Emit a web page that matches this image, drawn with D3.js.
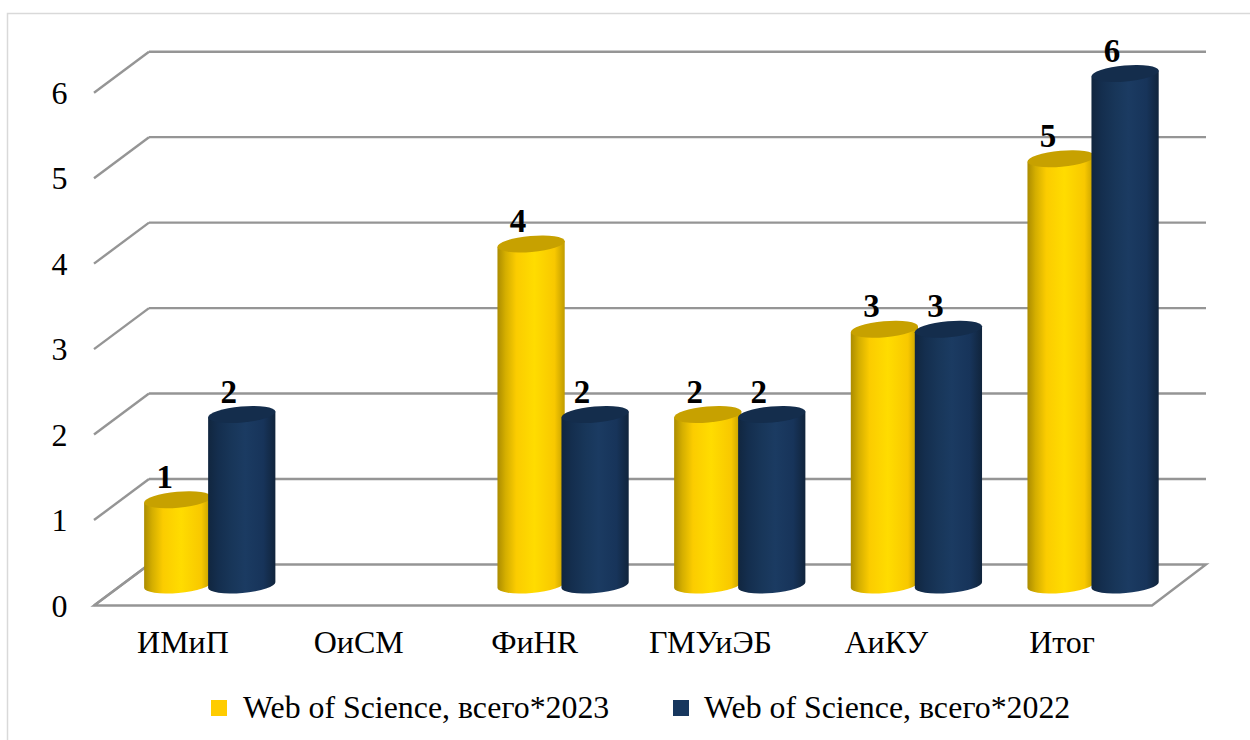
<!DOCTYPE html>
<html><head><meta charset="utf-8">
<script src="https://cdnjs.cloudflare.com/ajax/libs/d3/7.8.5/d3.min.js"></script>
<style>html,body{margin:0;background:#fff}svg{display:block}text{font-family:"Liberation Serif",serif;fill:#000}</style>
</head><body><svg id="c" width="1250" height="740"></svg>
<script>
const categories = ["ИМиП","ОиСМ","ФиHR","ГМУиЭБ","АиКУ","Итог"];
const values2023 = [1,null,4,2,3,5];
const values2022 = [2,null,2,2,3,6];
const seriesNames = ["Web of Science, всего*2023","Web of Science, всего*2022"];
const yTicks = [0,1,2,3,4,5,6];

const svg = d3.select("#c");
const depthX = 55, depthY = 41, barW = 67.5, rY = 8, tilt = -5;
const yBack = d3.scaleLinear().domain([0,6]).range([564.5,51.7]);
const yFront = d3.scaleLinear().domain([0,6]).range([564.5+depthY,51.7+depthY]);
const xBand = d3.scaleBand().domain(categories).range([94,1154]);
const xLabel = d3.scaleBand().domain(categories).range([95,1150]);
const xInner = d3.scaleBand().domain([0,1]).range([50,178]);
const barCenterY = d3.scaleLinear().domain([0,6]).range([585,73.5]);

// gradients
const defs = svg.append("defs");
function grad(id, stops){
  const g = defs.append("linearGradient").attr("id",id).attr("x1",0).attr("x2",1).attr("y1",0).attr("y2",0);
  stops.forEach(s=>g.append("stop").attr("offset",s[0]).attr("stop-color",s[1]));
}
grad("gy",[[0,"#ab8c00"],[0.12,"#d4ae00"],[0.28,"#fbcc00"],[0.55,"#ffdc00"],[0.85,"#f8c800"],[1,"#c09c00"]]);
grad("gb",[[0,"#11263f"],[0.15,"#142e4e"],[0.35,"#183659"],[0.55,"#1b3b62"],[0.82,"#17345a"],[1,"#10243c"]]);

// chart border
svg.append("path").attr("d","M7.5,740V13.5H1250").attr("fill","none").attr("stroke","#d9d9d9").attr("stroke-width",1.5);

// gridlines
const gridStroke = "#959595";
const grid = svg.append("g").attr("fill","none").attr("stroke",gridStroke).attr("stroke-width",2.4);
yTicks.forEach(t=>{
  if(t>0) grid.append("line").attr("x1",94+depthX).attr("x2",1206).attr("y1",yBack(t)).attr("y2",yBack(t));
  grid.append("line").attr("x1",94).attr("y1",yFront(t)).attr("x2",94+depthX).attr("y2",yBack(t));
});
// floor
grid.append("path").attr("d",`M94,${yFront(0)}L1152,${yFront(0)}L1206,${yBack(0)}L149,${yBack(0)}Z`).attr("stroke-linejoin","miter");

// cylinders
const dx = barW/2*Math.cos(tilt*Math.PI/180), dy = barW/2*Math.sin(tilt*Math.PI/180);
function drawSeries(vals, sIdx, fill, cap){
  const g = svg.append("g");
  const data = categories.map((c,i)=>({c,v:vals[i]})).filter(d=>d.v!==null);
  const cx = d=>xBand(d.c)+xInner(sIdx)+barW/2;
  g.selectAll("path.side").data(data).join("path").attr("class","side")
    .attr("fill",`url(#${fill})`)
    .attr("d",d=>{
      const x=cx(d), t=barCenterY(d.v), b=barCenterY(0);
      return `M${x-dx},${t-dy}L${x-dx},${b-dy}A${barW/2},${rY} ${tilt} 0 0 ${x+dx},${b+dy}L${x+dx},${t+dy}Z`;
    });
  g.selectAll("ellipse").data(data).join("ellipse")
    .attr("cx",0).attr("cy",0).attr("rx",barW/2).attr("ry",rY)
    .attr("transform",d=>`translate(${cx(d)},${barCenterY(d.v)}) rotate(${tilt})`)
    .attr("fill",cap);
  return {data,cx};
}
const s1 = drawSeries(values2023,0,"gy","#c7a100");
const s2 = drawSeries(values2022,1,"gb","#142d4c");

// data labels
[s1,s2].forEach(s=>{
  svg.append("g").selectAll("text").data(s.data).join("text")
    .attr("x",d=>s.cx(d)-13).attr("y",d=>barCenterY(d.v)-12)
    .attr("text-anchor","middle").attr("font-size",33).attr("font-weight","bold")
    .text(d=>d.v);
});

// axes
const yAxis = svg.append("g").attr("transform","translate(78,0)")
  .call(d3.axisLeft(yFront).tickValues(yTicks).tickFormat(d3.format("d")).tickSize(0).tickPadding(10));
yAxis.select(".domain").remove();
yAxis.selectAll("text").attr("font-size",32).attr("font-family",'"Liberation Serif",serif').attr("text-anchor","middle").attr("x",-18.5).attr("dy","0.33em");

const xAxis = svg.append("g").attr("transform","translate(0,630)")
  .call(d3.axisBottom(xLabel).tickSize(0).tickPadding(0));
xAxis.select(".domain").remove();
xAxis.selectAll("text").attr("font-size",32).attr("font-family",'"Liberation Serif",serif').attr("dy",0).attr("y",23);

// legend
const legX = [211,673], legT=[243,704], legC=["#ffcc00","#17375e"];
seriesNames.forEach((n,i)=>{
  svg.append("rect").attr("x",legX[i]).attr("y",700).attr("width",16).attr("height",16).attr("fill",legC[i]);
  svg.append("text").attr("x",legT[i]).attr("y",718).attr("font-size",31.85).text(n);
});
</script></body></html>
